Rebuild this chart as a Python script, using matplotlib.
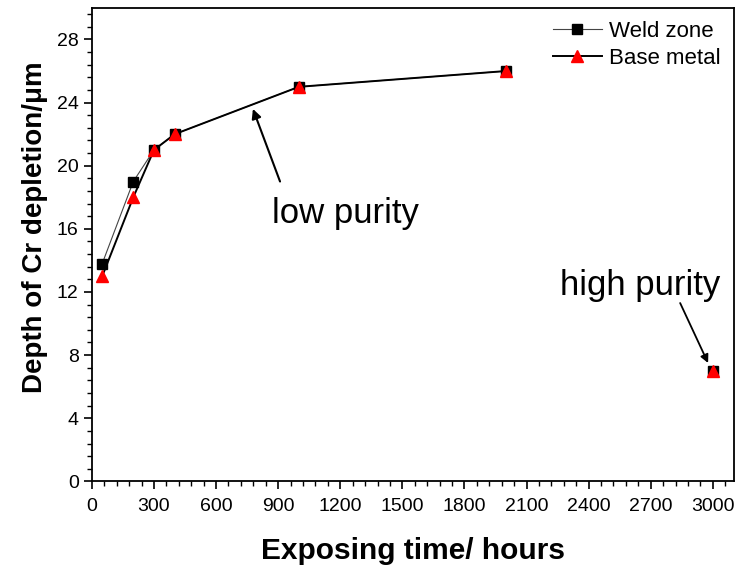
import numpy as np
import matplotlib
matplotlib.use("Agg")
import matplotlib.pyplot as plt
from matplotlib.ticker import MultipleLocator, AutoMinorLocator

plt.rcParams['font.family'] = ['Liberation Sans', 'DejaVu Sans']

# exposing time (hours) and Cr depletion depth (um)
hours = [50, 200, 300, 400, 1000, 2000]
weld_zone = [13.8, 19.0, 21.0, 22.0, 25.0, 26.0]
base_metal = [13.0, 18.0, 21.0, 22.0, 25.0, 26.0]

# high purity sample
hp_hours = [3000]
hp_weld = [7.0]
hp_base = [7.0]

fig, ax = plt.subplots(figsize=(7.47, 5.65), dpi=100)
fig.subplots_adjust(left=0.123, right=0.982, top=0.986, bottom=0.148)

ax.plot(hours, weld_zone, '-', color='#444444', lw=0.8, marker='s', ms=7,
        mfc='black', mec='black', label='Weld zone')
ax.plot(hours, base_metal, '-', color='black', lw=1.4, marker='^', ms=8,
        mfc='red', mec='red', label='Base metal')
ax.plot(hp_hours, hp_weld, 's', color='black', ms=7)
ax.plot(hp_hours, hp_base, '^', color='red', ms=8)

# annotations
ax.text(1227, 17.0, 'low purity', fontsize=25, ha='center', va='center')
ax.annotate('', xy=(778, 23.6), xytext=(909, 19.0),
            arrowprops=dict(arrowstyle='-|>', color='black', lw=1.5,
                            shrinkA=0, shrinkB=0, mutation_scale=14))
ax.text(2649, 12.4, 'high purity', fontsize=25, ha='center', va='center')
ax.annotate('', xy=(2977, 7.5), xytext=(2842, 11.3),
            arrowprops=dict(arrowstyle='-|>', color='black', lw=1.3,
                            shrinkA=0, shrinkB=0, mutation_scale=12))

ax.set_xlim(0, 3100)
ax.set_ylim(0, 30)
ax.xaxis.set_major_locator(MultipleLocator(300))
ax.xaxis.set_minor_locator(AutoMinorLocator(5))
ax.yaxis.set_major_locator(MultipleLocator(4))
ax.yaxis.set_minor_locator(AutoMinorLocator(5))
ax.tick_params(which='major', direction='out', length=6, width=1.2, labelsize=14)
ax.tick_params(axis='x', which='major', pad=6)
ax.tick_params(which='minor', direction='out', length=3.5, width=1.0)
for s in ax.spines.values():
    s.set_linewidth(1.3)

ax.set_xlabel('Exposing time/ hours', fontsize=21.5, fontweight='bold', labelpad=16)
ax.set_ylabel('Depth of Cr depletion/\u03bcm', fontsize=20, fontweight='bold')
ax.yaxis.set_label_coords(-0.068, 0.537)

ax.legend(loc='upper right', frameon=False, fontsize=16, handlelength=2.2,
          handletextpad=0.3, borderaxespad=0.2, labelspacing=0.25)

fig.savefig('out.png', dpi=100)
